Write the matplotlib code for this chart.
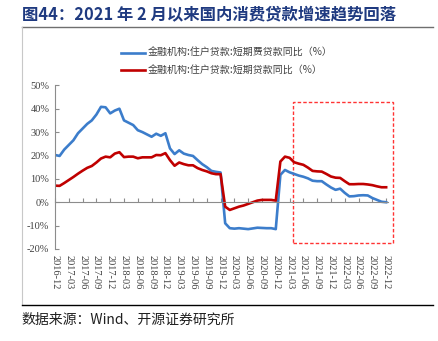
import matplotlib
matplotlib.use("Agg")
import matplotlib.pyplot as plt
from matplotlib.lines import Line2D
from matplotlib.patches import Rectangle

plt.rcParams['font.family'] = ['Liberation Serif', 'Noto Sans CJK SC', 'DejaVu Sans']

# monthly data, 2016-12 .. 2022-12
consumer_short = [20.2, 19.8, 22.5, 24.5, 26.5, 29.5, 31.5, 33.5, 35.0, 37.5,
                  40.8, 40.6, 38.0, 39.2, 40.0, 35.0, 34.0, 33.0, 30.8, 30.0,
                  29.0, 28.0, 29.3, 28.4, 29.5, 23.0, 20.6, 22.2, 20.8, 20.2,
                  19.8, 18.0, 16.3, 15.0, 13.4, 13.0, 12.7, -9.0, -11.1, -11.3,
                  -11.1, -11.3, -11.5, -11.2, -10.9, -11.0, -11.1, -11.1, -11.5, 11.7,
                  13.8, 12.8, 12.1, 11.4, 10.9, 10.2, 9.2, 9.0, 9.0, 7.6,
                  6.3, 5.3, 5.8, 4.0, 2.5, 2.6, 2.9, 3.0, 2.9, 1.8,
                  1.0, 0.2, 0.0]
short_loans = [7.1, 7.0, 8.2, 9.5, 10.8, 12.2, 13.5, 14.7, 15.5, 17.0,
               18.7, 19.5, 19.2, 20.8, 21.4, 19.3, 19.5, 19.5, 18.8, 19.2,
               19.2, 19.2, 20.2, 20.1, 21.0, 18.0, 15.6, 17.0, 16.3, 15.8,
               15.8, 14.6, 13.8, 13.2, 12.4, 12.0, 12.0, -1.9, -3.3, -2.6,
               -1.9, -1.4, -0.7, 0.0, 0.7, 1.0, 1.0, 1.0, 0.7, 17.4,
               19.5, 19.0, 17.1, 16.5, 16.0, 14.8, 13.4, 13.2, 13.1, 12.1,
               11.0, 10.5, 10.4, 9.0, 7.7, 7.7, 7.8, 7.8, 7.6, 7.3,
               6.8, 6.4, 6.4]
tick_labels = ['2016-12', '2017-03', '2017-06', '2017-09', '2017-12', '2018-03',
               '2018-06', '2018-09', '2018-12', '2019-03', '2019-06', '2019-09',
               '2019-12', '2020-03', '2020-06', '2020-09', '2020-12', '2021-03',
               '2021-06', '2021-09', '2021-12', '2022-03', '2022-06', '2022-09',
               '2022-12']
names = ['金融机构:住户贷款:短期费贷款同比（%）', '金融机构:住户贷款:短期贷款同比（%）']

months = list(range(len(consumer_short)))
ticks = list(range(0, len(consumer_short), 3))

fig = plt.figure(figsize=(4.39, 3.41), dpi=100)
ax = fig.add_axes([0.1253, 0.2698, 0.7585, 0.48])

l1, = ax.plot(months, consumer_short, color='#3C7DCB', lw=1.9, solid_joinstyle='round')
l2, = ax.plot(months, short_loans, color='#C00000', lw=1.9, solid_joinstyle='round')

ax.set_xlim(0, 72.4)
ax.set_ylim(-20, 50)
ax.set_yticks(range(-20, 51, 10))
ax.set_yticklabels([f'{v}%' for v in range(-20, 51, 10)])

for s in ['top', 'right']:
    ax.spines[s].set_visible(False)
ax.spines['bottom'].set_position(('data', 0))
ax.spines['bottom'].set_color('#8C8C8C')
ax.spines['left'].set_color('#8C8C8C')
ax.set_xticks(ticks)
ax.tick_params(axis='x', direction='in', length=3, color='#8C8C8C', labelbottom=False)
ax.tick_params(axis='y', direction='in', length=3, color='#8C8C8C',
               labelsize=7.5, labelcolor='#404040', pad=4)

sec = ax.secondary_xaxis('bottom')
sec.spines['bottom'].set_visible(False)
sec.set_xticks(ticks)
sec.set_xticklabels(tick_labels, rotation=-90)
sec.tick_params(length=0, labelsize=7.5, labelcolor='#404040', pad=4)

# highlight box
ax.add_patch(Rectangle((51.8, -17.5), 21.7, 60.5, fill=False, ec='#FF3333',
                       ls=(0, (2.5, 1.5)), lw=1.0, clip_on=False))

fig.legend([l1, l2], names, loc='upper left', bbox_to_anchor=(0.255, 0.885),
           frameon=False, prop={'family': ['Noto Sans CJK SC'], 'size': 7.2},
           labelcolor='#404040', handlelength=2.4, handletextpad=0.3,
           labelspacing=0.75)

fig.text(0.05, 0.958, '图44：2021 年 2 月以来国内消费贷款增速趋势回落',
         fontsize=11.8, fontweight='bold', color='#1F3A80', va='center',
         family=['Noto Sans CJK SC'])
fig.text(0.05, 0.061, '数据来源：Wind、开源证券研究所', fontsize=10,
         color='#202020', va='center', family=['Noto Sans CJK SC'])

fig.add_artist(Line2D([0.05, 0.986], [0.921, 0.921], color='#6F6F6F', lw=1.0))
fig.add_artist(Line2D([0.05, 0.05], [0.921, 0.1056], color='#C8C8C8', lw=0.8))
fig.add_artist(Line2D([0.05, 0.986], [0.1056, 0.1056], color='#000000', lw=1.0))

fig.savefig('out.png', dpi=100)
